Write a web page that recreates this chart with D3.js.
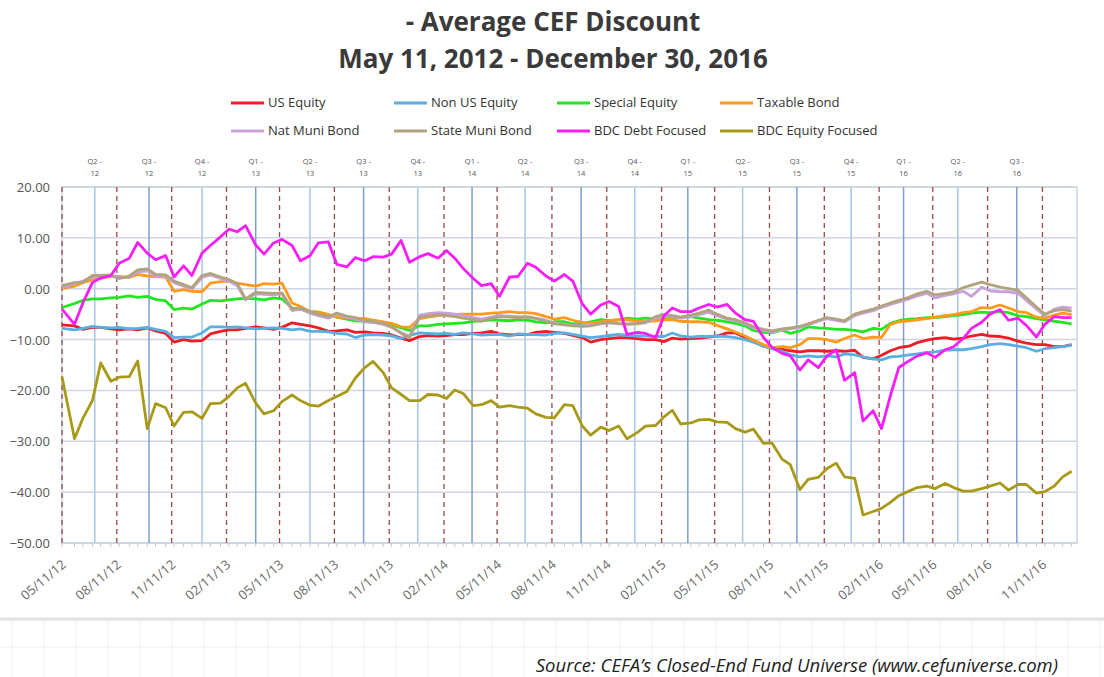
<!DOCTYPE html>
<html>
<head>
<meta charset="utf-8">
<script src="https://cdn.jsdelivr.net/npm/d3@7"></script>
<style>
  body { margin: 0; background: #fff; }
  text { font-family: "Open Sans", "DejaVu Sans", sans-serif; }
</style>
</head>
<body>
<svg id="chart" width="1104" height="677"></svg>
<script>
// Average CEF discount by category at the 1st and 15th of each month

var months = [
  '2012-06', '2012-07', '2012-08', '2012-09', '2012-10', '2012-11', '2012-12',
  '2013-01', '2013-02', '2013-03', '2013-04', '2013-05', '2013-06', '2013-07', '2013-08', '2013-09', '2013-10', '2013-11', '2013-12',
  '2014-01', '2014-02', '2014-03', '2014-04', '2014-05', '2014-06', '2014-07', '2014-08', '2014-09', '2014-10', '2014-11', '2014-12',
  '2015-01', '2015-02', '2015-03', '2015-04', '2015-05', '2015-06', '2015-07', '2015-08', '2015-09', '2015-10', '2015-11', '2015-12',
  '2016-01', '2016-02', '2016-03', '2016-04', '2016-05', '2016-06', '2016-07', '2016-08', '2016-09', '2016-10', '2016-11', '2016-12'
]
var dates = ['2012-05-11'].concat(months.flatMap(function (m) { return [m + '-01', m + '-15'] }), ['2016-12-30'])

var usEquity = [-7.1, -7.3, -8.0, -7.6, -7.6, -7.9, -8.1, -7.9, -8.1, -7.7,
  -8.3, -8.8, -10.5, -10.0, -10.3, -10.2, -8.9, -8.4, -8.1, -8.1,
  -7.8, -7.5, -7.7, -8.0, -7.6, -6.7, -7.0, -7.3, -7.7, -8.4,
  -8.3, -8.1, -8.6, -8.5, -8.7, -8.8, -9.1, -9.7, -10.2, -9.4,
  -9.2, -9.3, -9.2, -9.0, -9.0, -8.8, -8.7, -8.4, -8.9, -9.1,
  -9.0, -9.0, -8.6, -8.4, -8.6, -8.8, -9.2, -9.6, -10.5, -10.0,
  -9.8, -9.6, -9.6, -9.8, -10.0, -10.0, -10.4, -9.7, -9.9, -9.8,
  -9.7, -9.5, -9.3, -8.7, -8.7, -9.6, -10.3, -11.3, -11.6, -11.9,
  -12.2, -12.4, -12.2, -12.2, -12.3, -12.2, -12.3, -12.1, -13.5, -13.8,
  -13.1, -12.2, -11.6, -11.3, -10.6, -10.1, -9.8, -9.6, -9.9, -9.7,
  -9.3, -9.0, -9.3, -9.4, -9.7, -10.3, -10.7, -11.0, -11.0, -11.4,
  -11.4, -11.0]
var nonUsEquity = [-7.8, -8.1, -7.8, -7.4, -7.6, -7.7, -7.6, -7.9, -7.8, -7.6,
  -8.0, -8.4, -9.6, -9.5, -9.5, -8.7, -7.5, -7.5, -7.6, -7.5,
  -7.7, -7.9, -7.8, -7.7, -7.8, -8.1, -7.9, -8.4, -8.4, -8.5,
  -8.8, -8.9, -9.6, -9.1, -9.0, -9.1, -9.3, -9.8, -9.2, -8.7,
  -8.8, -8.9, -8.8, -9.0, -8.7, -8.9, -9.1, -9.0, -9.0, -9.3,
  -8.9, -9.0, -9.0, -9.1, -8.8, -8.7, -9.0, -9.3, -9.6, -9.4,
  -9.2, -9.0, -9.2, -9.3, -9.3, -9.4, -9.4, -8.7, -9.3, -9.5,
  -9.4, -9.4, -9.3, -9.4, -9.6, -10.0, -10.5, -11.3, -11.8, -12.3,
  -13.0, -13.4, -13.2, -13.4, -13.2, -13.4, -12.8, -13.0, -13.4, -13.8,
  -14.0, -13.4, -13.3, -13.0, -12.8, -12.5, -12.4, -12.1, -12.0, -12.0,
  -11.8, -11.4, -11.0, -10.8, -11.0, -11.3, -11.6, -12.3, -11.8, -11.6,
  -11.4, -11.1]
var specialEquity = [-3.7, -2.9, -2.3, -2.0, -2.0, -1.8, -1.7, -1.4, -1.7, -1.5,
  -2.1, -2.4, -4.1, -3.8, -4.0, -3.0, -2.3, -2.4, -2.2, -2.0,
  -1.9, -2.0, -2.2, -1.8, -2.0, -3.8, -4.0, -4.5, -4.6, -5.1,
  -5.6, -6.0, -6.3, -6.4, -6.6, -6.8, -7.1, -7.7, -8.2, -7.3,
  -7.3, -7.0, -6.9, -6.8, -6.7, -6.4, -6.3, -6.1, -6.2, -6.3,
  -6.1, -6.2, -6.5, -6.7, -6.5, -6.5, -6.9, -6.8, -6.5, -6.1,
  -6.3, -6.1, -5.8, -6.0, -5.8, -6.0, -5.8, -5.8, -5.7, -5.5,
  -5.8, -6.1, -6.2, -6.5, -6.8, -7.3, -8.2, -8.6, -8.7, -8.1,
  -8.8, -8.3, -7.5, -7.7, -7.8, -8.0, -8.0, -8.2, -8.5, -7.8,
  -8.0, -6.8, -6.3, -6.0, -5.9, -5.7, -5.7, -5.5, -5.3, -5.1,
  -4.8, -4.6, -4.7, -4.5, -4.7, -5.3, -5.5, -5.9, -6.1, -6.4,
  -6.6, -6.9]
var taxableBond = [0.0, 0.5, 1.2, 1.8, 2.1, 2.4, 2.4, 2.2, 2.8, 2.5,
  2.4, 2.3, -0.5, -0.2, -0.5, -0.6, 1.1, 1.4, 1.5, 1.1,
  0.8, 0.5, 1.0, 0.9, 1.1, -2.8, -3.5, -4.5, -4.6, -5.1,
  -5.6, -5.7, -5.8, -5.9, -6.2, -6.5, -6.8, -7.5, -7.6, -5.9,
  -5.6, -5.3, -5.1, -5.1, -5.0, -5.0, -5.0, -4.8, -4.7, -4.5,
  -4.7, -4.7, -4.9, -5.5, -6.0, -5.7, -6.2, -6.6, -6.7, -6.5,
  -6.3, -6.1, -6.1, -6.3, -6.5, -6.3, -6.1, -6.1, -6.4, -6.5,
  -6.5, -6.6, -7.2, -7.9, -8.5, -9.3, -10.1, -11.0, -11.6, -11.4,
  -11.6, -11.0, -9.8, -9.8, -10.0, -10.5, -9.8, -9.1, -9.8, -9.5,
  -9.6, -7.0, -6.5, -6.3, -6.1, -5.9, -5.6, -5.3, -5.1, -4.7,
  -4.5, -3.7, -3.8, -3.2, -3.8, -4.5, -4.7, -5.6, -5.8, -5.2,
  -4.8, -5.1]
var natMuniBond = [0.2, 1.0, 1.5, 2.3, 2.4, 2.5, 2.2, 2.3, 3.3, 3.5,
  2.6, 2.4, 1.2, 0.5, 0.0, 2.2, 2.7, 2.0, 1.5, 0.6,
  -2.2, -1.0, -1.1, -1.2, -1.0, -4.3, -4.0, -4.8, -5.3, -5.8,
  -5.0, -5.6, -6.0, -6.5, -6.6, -7.0, -7.6, -8.6, -9.4, -5.2,
  -4.9, -4.7, -4.8, -5.0, -5.3, -5.7, -6.0, -5.6, -5.3, -5.4,
  -5.5, -5.5, -5.8, -6.2, -6.7, -7.0, -7.2, -7.3, -7.2, -6.9,
  -6.7, -6.9, -7.0, -6.9, -6.7, -5.8, -5.4, -5.5, -5.8, -5.5,
  -5.1, -4.6, -5.3, -6.0, -6.3, -6.9, -7.7, -8.2, -8.5, -8.1,
  -7.9, -7.6, -7.1, -6.4, -5.9, -6.2, -6.5, -5.3, -4.8, -4.3,
  -3.7, -3.1, -2.6, -2.0, -1.4, -0.9, -1.8, -1.3, -1.0, -0.5,
  -1.5, 0.3, -0.4, -0.6, -0.6, -0.9, -2.3, -4.0, -5.3, -4.0,
  -3.6, -3.8]
var stateMuniBond = [0.6, 1.2, 1.3, 2.6, 2.6, 2.7, 2.0, 2.5, 3.7, 3.9,
  2.8, 2.7, 1.5, 0.8, 0.2, 2.6, 3.0, 2.3, 1.8, 1.0,
  -2.0, -0.7, -0.8, -0.9, -0.8, -4.0, -3.8, -4.5, -5.0, -5.5,
  -4.8, -5.4, -5.7, -6.3, -6.4, -6.8, -7.5, -8.8, -9.6, -5.6,
  -5.4, -5.1, -5.3, -5.5, -5.8, -6.1, -6.4, -5.9, -5.5, -5.6,
  -5.7, -5.6, -5.9, -6.4, -6.9, -7.1, -7.3, -7.4, -7.3, -6.8,
  -6.6, -6.8, -6.9, -6.8, -6.5, -5.5, -5.1, -5.3, -5.6, -5.2,
  -4.8, -4.2, -5.0, -5.8, -6.1, -6.7, -7.5, -8.0, -8.3, -7.9,
  -7.7, -7.4, -6.9, -6.2, -5.7, -6.0, -6.3, -5.0, -4.5, -4.0,
  -3.4, -2.8, -2.3, -1.7, -1.0, -0.5, -1.2, -0.9, -0.6, 0.2,
  0.7, 1.3, 0.8, 0.3, 0.0, -0.3, -1.8, -3.6, -5.0, -4.3,
  -4.1, -4.4]
var bdcDebt = [-4.0, -7.0, -2.8, 1.2, 2.1, 2.6, 5.0, 6.0, 9.1, 7.0,
  5.7, 6.5, 2.3, 4.5, 2.6, 7.0, 8.5, 10.2, 11.7, 11.2,
  12.4, 8.6, 6.8, 9.0, 9.7, 8.5, 5.5, 6.5, 9.0, 9.2,
  4.8, 4.3, 6.1, 5.5, 6.3, 6.2, 6.8, 9.5, 5.2, 6.3,
  6.9, 6.0, 7.5, 6.0, 4.0, 2.0, 0.6, 1.0, -1.5, 2.3,
  2.4, 5.0, 4.2, 2.5, 1.5, 2.8, 1.5, -3.0, -5.0, -3.2,
  -2.5, -3.5, -9.0, -8.6, -8.8, -9.6, -5.3, -3.8, -4.5, -4.5,
  -3.8, -3.1, -3.6, -3.1, -4.8, -6.1, -6.4, -9.6, -11.5, -12.7,
  -13.2, -16.0, -14.0, -15.5, -13.3, -12.0, -18.0, -16.5, -26.0, -24.0,
  -27.5, -21.0, -15.5, -14.2, -13.2, -12.6, -13.5, -12.0, -11.4, -9.8,
  -7.8, -6.6, -5.0, -4.1, -6.2, -5.8, -7.2, -9.5, -7.0, -5.5,
  -5.7, -5.7]
var bdcEquity = [-17.3, -29.5, -25.5, -22.0, -14.6, -18.2, -17.4, -17.3, -14.2, -27.5,
  -22.6, -23.4, -27.0, -24.3, -24.2, -25.5, -22.6, -22.5, -21.2, -19.5,
  -18.6, -22.5, -24.6, -24.0, -22.2, -20.9, -22.0, -22.9, -23.1, -22.0,
  -21.2, -20.2, -17.6, -15.5, -14.3, -16.5, -19.5, -20.8, -22.0, -22.0,
  -20.8, -20.9, -21.6, -19.9, -20.6, -23.0, -22.8, -22.0, -23.3, -23.0,
  -23.3, -23.5, -24.6, -25.3, -25.4, -22.8, -23.0, -27.0, -28.8, -27.2,
  -27.9, -27.0, -29.5, -28.3, -27.0, -26.9, -25.2, -23.9, -26.6, -26.4,
  -25.8, -25.7, -26.2, -26.3, -27.5, -28.2, -27.6, -30.4, -30.3, -33.5,
  -34.6, -39.5, -37.5, -37.1, -35.4, -34.3, -37.0, -37.3, -44.5, -43.8,
  -43.2, -42.0, -40.7, -39.8, -39.1, -38.8, -39.3, -38.3, -39.1, -39.8,
  -39.8, -39.3, -38.8, -38.2, -39.6, -38.5, -38.5, -40.2, -39.9, -38.8,
  -37.0, -35.9]

var seriesNames = ['US Equity', 'Non US Equity', 'Special Equity', 'Taxable Bond',
  'Nat Muni Bond', 'State Muni Bond', 'BDC Debt Focused', 'BDC Equity Focused']
var seriesValues = [usEquity, nonUsEquity, specialEquity, taxableBond,
  natMuniBond, stateMuniBond, bdcDebt, bdcEquity]
var seriesColors = ['#ee1c25', '#5aaee2', '#22e622', '#ff9a1a',
  '#c9a0dc', '#b0a47e', '#f51ff5', '#a89a18']

// x axis labels (dashed lines) and quarter markers (solid lines)
var tickDates = ['2012-05-11', '2012-08-11', '2012-11-11', '2013-02-11', '2013-05-11', '2013-08-11',
  '2013-11-11', '2014-02-11', '2014-05-11', '2014-08-11', '2014-11-11', '2015-02-11', '2015-05-11',
  '2015-08-11', '2015-11-11', '2016-02-11', '2016-05-11', '2016-08-11', '2016-11-11']
var quarterDates = ['2012-07-05', '2012-10-04', '2013-01-01', '2013-04-01', '2013-07-01', '2013-09-29',
  '2013-12-29', '2014-03-30', '2014-06-27', '2014-09-29', '2014-12-28', '2015-03-27', '2015-06-27',
  '2015-09-26', '2015-12-26', '2016-03-23', '2016-06-22', '2016-09-29']
var quarterLabels = ['Q2-12', 'Q3-12', 'Q4-12', 'Q1-13', 'Q2-13', 'Q3-13', 'Q4-13', 'Q1-14', 'Q2-14',
  'Q3-14', 'Q4-14', 'Q1-15', 'Q2-15', 'Q3-15', 'Q4-15', 'Q1-16', 'Q2-16', 'Q3-16']
var yTicks = [20, 10, 0, -10, -20, -30, -40, -50]

var parse = d3.timeParse('%Y-%m-%d')
var fmt = d3.timeFormat('%m/%d/%y')

var svg = d3.select('#chart')
var plotLeft = 62
var plotRight = 1077
var plotTop = 187
var plotBottom = 543

var x = d3.scaleTime()
  .domain([parse('2012-05-11'), parse('2017-01-08')])
  .range([plotLeft, plotRight])
var y = d3.scaleLinear().domain([-50, 20]).range([plotBottom, plotTop])

// spreadsheet cells under the chart
var cells = svg.append('g')
cells.append('line').attr('x1', 0).attr('x2', 1104).attr('y1', 619).attr('y2', 619)
  .attr('stroke', '#e2e2e2').attr('stroke-width', 3)
cells.append('line').attr('x1', 0).attr('x2', 1104).attr('y1', 647).attr('y2', 647)
  .attr('stroke', '#efefef').attr('stroke-width', 1)
for (var cx = 12; cx < 1104; cx += 32) {
  cells.append('line').attr('x1', cx).attr('x2', cx).attr('y1', 621).attr('y2', 677)
    .attr('stroke', '#eeeeee').attr('stroke-width', 1)
}

// titles
svg.append('text').attr('x', 553).attr('y', 31).attr('text-anchor', 'middle')
  .style('font-size', '26px').style('font-weight', 'bold').attr('fill', '#3a3a3a')
  .text('- Average CEF Discount')
svg.append('text').attr('x', 553).attr('y', 68).attr('text-anchor', 'middle')
  .style('font-size', '26px').style('font-weight', 'bold').attr('fill', '#3a3a3a')
  .text('May 11, 2012 - December 30, 2016')

// legend, 4 columns x 2 rows
var legend = svg.append('g')
seriesNames.forEach(function (name, i) {
  var lx = 231 + (i % 4) * 163
  var ly = 103 + Math.floor(i / 4) * 28
  legend.append('line').attr('x1', lx).attr('x2', lx + 33).attr('y1', ly).attr('y2', ly)
    .attr('stroke', seriesColors[i]).attr('stroke-width', 3)
  legend.append('text').attr('x', lx + 37).attr('y', ly + 4)
    .style('font-size', '13px').attr('fill', '#333').text(name)
})

// plot area
var plot = svg.append('g')
plot.append('rect').attr('x', plotLeft).attr('y', plotTop)
  .attr('width', plotRight - plotLeft).attr('height', plotBottom - plotTop)
  .attr('fill', '#fff').attr('stroke', '#c9d3df').attr('stroke-width', 1.5)

plot.selectAll('.hgrid').data(yTicks).enter().append('line')
  .attr('x1', plotLeft).attr('x2', plotRight)
  .attr('y1', function (d) { return y(d) }).attr('y2', function (d) { return y(d) })
  .attr('stroke', '#cdd6e1').attr('stroke-width', 1.5)

plot.selectAll('.qline').data(quarterDates).enter().append('line')
  .attr('x1', function (d) { return x(parse(d)) }).attr('x2', function (d) { return x(parse(d)) })
  .attr('y1', plotTop).attr('y2', plotBottom)
  .attr('stroke', function (d, i) { return i % 2 ? '#7f9fc9' : '#a9c6e3' })
  .attr('stroke-width', 1.5)

plot.selectAll('.dline').data(tickDates).enter().append('line')
  .attr('x1', function (d) { return x(parse(d)) }).attr('x2', function (d) { return x(parse(d)) })
  .attr('y1', plotTop).attr('y2', plotBottom + 3)
  .attr('stroke', '#9a4a4a').attr('stroke-width', 1.3).attr('stroke-dasharray', '5,4')

// small ticks along the bottom edge
plot.selectAll('.mtick').data(dates).enter().append('line')
  .attr('x1', function (d) { return x(parse(d)) }).attr('x2', function (d) { return x(parse(d)) })
  .attr('y1', plotBottom).attr('y2', plotBottom + 4)
  .attr('stroke', '#c4cad2').attr('stroke-width', 1)

// y labels
svg.selectAll('.ylab').data(yTicks).enter().append('text')
  .attr('x', 50).attr('y', function (d) { return y(d) + 5 })
  .attr('text-anchor', 'end').style('font-size', '13px').attr('fill', '#555')
  .text(function (d) { return d3.format('.2f')(d) })

// x labels, rotated
svg.selectAll('.xlab').data(tickDates).enter().append('text')
  .attr('transform', function (d) { return 'translate(' + (x(parse(d)) + 5) + ',' + (plotBottom + 23) + ') rotate(-40)' })
  .attr('text-anchor', 'end').style('font-size', '13px').attr('fill', '#6a6a6a')
  .text(function (d) { return fmt(parse(d)) })

// quarter labels above the plot
var ql = svg.selectAll('.qlab').data(quarterDates).enter().append('text')
  .attr('text-anchor', 'middle').style('font-size', '7.5px').attr('fill', '#555')
ql.append('tspan').attr('y', 164).attr('x', function (d) { return x(parse(d)) })
  .text(function (d, i) { return quarterLabels[i].split('-')[0] + ' -' })
ql.append('tspan').attr('y', 176).attr('x', function (d) { return x(parse(d)) })
  .text(function (d, i) { return quarterLabels[i].split('-')[1] })

// series lines
var line = d3.line()
  .x(function (d, i) { return x(parse(dates[i])) })
  .y(function (d) { return y(d) })
seriesValues.forEach(function (vals, i) {
  plot.append('path').datum(vals)
    .attr('d', line)
    .attr('fill', 'none')
    .attr('stroke', seriesColors[i])
    .attr('stroke-width', 2.8)
    .attr('stroke-linejoin', 'round')
})

// source
svg.append('text').attr('x', 1058).attr('y', 672).attr('text-anchor', 'end')
  .style('font-size', '18.5px').style('font-style', 'italic').attr('fill', '#222')
  .text('Source: CEFA\u2019s Closed-End Fund Universe (www.cefuniverse.com)')
</script>
</body>
</html>
